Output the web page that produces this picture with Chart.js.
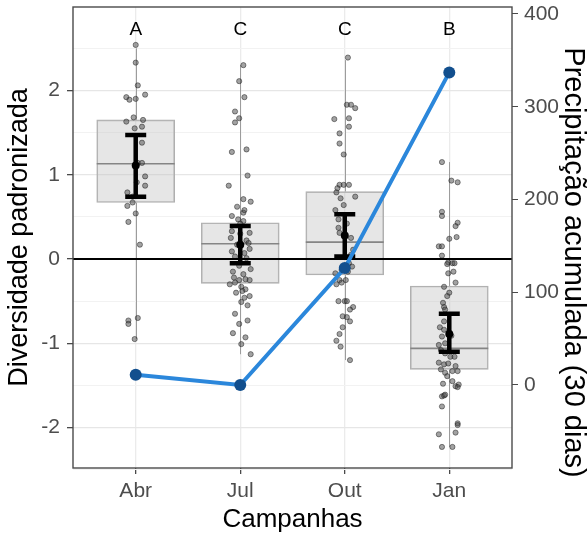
<!DOCTYPE html>
<html>
<head>
<meta charset="utf-8">
<script src="https://cdn.jsdelivr.net/npm/chart.js@4"></script>
<style>
  html, body { margin: 0; padding: 0; background: #fff; }
  canvas { display: block; }
</style>
</head>
<body>
<canvas id="chart" width="588" height="535"></canvas>
<script>
// categorias e letras de significancia
var campanhas = ['Abr', 'Jul', 'Out', 'Jan'];
var letras = ['A', 'C', 'C', 'B'];
var alturaLetras = 2.72;

// precipitacao acumulada (eixo direito)
var precipitacao = [11, 0, 126, 337];
var tituloDir = 'Precipitação acumulada (30 dias)';

// estatisticas do boxplot (diversidade padronizada)
var q1 = [0.67, -0.29, -0.19, -1.31];
var mediana = [1.13, 0.18, 0.20, -1.06];
var q3 = [1.65, 0.43, 0.80, -0.32];
var bigodeMin = [-0.95, -1.13, -1.20, -2.23];
var bigodeMax = [2.50, 2.30, 2.36, 1.15];

// media e intervalo de confianca
var media = [1.11, 0.17, 0.28, -0.89];
var icMin = [0.74, -0.05, 0.03, -1.10];
var icMax = [1.47, 0.39, 0.53, -0.65];

// pontos com jitter: [deslocamento x, valor]
var jitterAbr = [[0.00, 2.54], [0.00, 2.33], [0.02, 2.06], [-0.09, 1.92], [-0.06, 1.89], [0.00, 1.90],
  [0.09, 1.95], [-0.02, 1.68], [-0.09, 1.63], [0.07, 1.65], [-0.01, 1.55], [0.06, 1.57], [0.06, 1.38],
  [0.02, 1.14], [0.06, 1.14], [0.09, 0.98], [0.01, 0.91], [0.09, 0.87], [-0.08, 0.79], [-0.03, 0.74],
  [-0.08, 0.63], [-0.03, 0.67], [0.00, 0.54], [-0.07, 0.44], [0.04, 0.17], [-0.07, -0.73],
  [-0.07, -0.77], [0.02, -0.70], [-0.01, -0.95]];
var jitterJul = [[0.03, 2.30], [-0.01, 2.11], [0.04, 1.92], [-0.05, 1.75], [-0.01, 1.67], [-0.05, 1.62],
  [-0.08, 1.27], [0.06, 1.30], [0.07, 0.99], [-0.11, 0.87], [0.03, 0.71], [0.10, 0.68], [-0.03, 0.62],
  [0.03, 0.55], [0.04, 0.58], [-0.08, 0.51], [-0.02, 0.47], [0.03, 0.45], [0.00, 0.42], [-0.08, 0.33],
  [0.00, 0.30], [0.09, 0.31], [-0.09, 0.25], [0.06, 0.22], [-0.03, 0.17], [0.08, 0.19], [0.04, 0.07],
  [-0.08, 0.09], [0.09, 0.12], [-0.05, 0.03], [0.06, 0.01], [-0.01, -0.08], [0.10, -0.12],
  [-0.07, -0.15], [0.03, -0.18], [-0.06, -0.22], [-0.01, -0.25], [0.05, -0.24], [0.09, -0.25],
  [-0.10, -0.30], [-0.05, -0.28], [0.01, -0.33], [0.05, -0.36], [-0.04, -0.40], [0.02, -0.38],
  [0.09, -0.44], [0.04, -0.46], [0.01, -0.51], [0.07, -0.55], [-0.05, -0.65], [0.07, -0.73],
  [-0.01, -0.77], [-0.07, -0.88], [0.05, -0.93], [0.01, -1.01], [0.10, -1.13]];
var jitterOut = [[0.03, 2.39], [0.02, 1.83], [0.06, 1.83], [0.10, 1.79], [-0.10, 1.66], [0.04, 1.67],
  [0.04, 1.57], [-0.05, 1.49], [-0.05, 1.37], [-0.01, 1.24], [-0.05, 0.88], [-0.01, 0.88], [0.04, 0.88],
  [-0.07, 0.84], [-0.08, 0.79], [-0.04, 0.72], [0.10, 0.74], [-0.01, 0.64], [-0.09, 0.58],
  [-0.06, 0.47], [0.02, 0.42], [-0.06, 0.37], [-0.05, 0.31], [0.06, 0.25], [0.08, 0.11], [0.06, 0.05],
  [0.04, -0.05], [0.07, -0.09], [0.03, -0.15], [-0.03, -0.13], [-0.09, -0.17], [-0.05, -0.25],
  [0.01, -0.25], [-0.08, -0.30], [-0.03, -0.28], [-0.06, -0.50], [0.00, -0.50], [0.02, -0.50],
  [0.08, -0.57], [0.05, -0.60], [-0.02, -0.68], [0.02, -0.69], [0.05, -0.74], [-0.02, -0.81],
  [-0.05, -0.89], [-0.08, -0.97], [-0.04, -1.04], [0.05, -1.20]];
var jitterJan = [[-0.07, 1.15], [0.02, 0.93], [0.08, 0.91], [-0.07, 0.56], [-0.07, 0.51], [0.08, 0.43],
  [0.06, 0.39], [0.00, 0.24], [0.07, 0.26], [-0.10, 0.15], [-0.07, 0.15], [-0.07, 0.04], [-0.01, -0.04],
  [0.03, -0.05], [0.05, -0.05], [-0.02, -0.06], [-0.01, -0.17], [0.04, -0.15], [-0.05, -0.33],
  [0.00, -0.40], [0.06, -0.28], [-0.02, -0.44], [-0.06, -0.52], [-0.05, -0.57], [-0.04, -0.60],
  [-0.05, -0.74], [-0.09, -0.81], [-0.05, -0.84], [-0.07, -0.92], [0.02, -0.91], [-0.04, -1.00],
  [-0.10, -1.02], [-0.08, -1.08], [-0.04, -1.12], [0.01, -1.16], [0.05, -1.16], [-0.10, -1.23],
  [-0.05, -1.25], [-0.01, -1.24], [0.06, -1.27], [-0.08, -1.31], [0.03, -1.33], [0.08, -1.33],
  [-0.04, -1.35], [-0.02, -1.39], [0.03, -1.45], [0.09, -1.49], [0.06, -1.51], [0.08, -1.52],
  [-0.06, -1.48], [-0.07, -1.63], [-0.05, -1.62], [-0.04, -1.61], [-0.07, -1.75], [0.08, -1.95],
  [0.08, -1.97], [0.06, -2.06], [-0.10, -2.08], [-0.07, -2.23], [0.03, -2.23]];

// ticks
var ticksEsq = [-2.5, -2, -1.5, -1, -0.5, 0, 0.5, 1, 1.5, 2, 2.5];
var ticksDir = [0, 100, 200, 300, 400];

var fonte = 'Liberation Sans, Arial, Helvetica, sans-serif';

// monta os dados
var grupos = [jitterAbr, jitterJul, jitterOut, jitterJan];
var pontosJitter = [];
grupos.forEach(function(g, i) {
  g.forEach(function(p) { pontosJitter.push({ x: i + 1 + p[0], y: p[1] }); });
});
var caixas = campanhas.map(function(c, i) { return { x: i + 1, y: [q1[i], q3[i]] }; });
var medias = campanhas.map(function(c, i) { return { x: i + 1, y: media[i] }; });
var precip = campanhas.map(function(c, i) { return { x: i + 1, y: precipitacao[i] }; });

function isMajor(v) { return Math.abs(v - Math.round(v)) < 1e-9; }

var extras = {
  id: 'extras',
  beforeDatasetsDraw: function(chart) {
    // bigodes
    var ctx = chart.ctx, xs = chart.scales.x, ys = chart.scales.y;
    ctx.save();
    ctx.strokeStyle = '#9c9c9c';
    ctx.lineWidth = 1;
    for (var i = 0; i < campanhas.length; i++) {
      var px = Math.round(xs.getPixelForValue(i + 1)) + 0.5;
      ctx.beginPath();
      ctx.moveTo(px, ys.getPixelForValue(bigodeMin[i]));
      ctx.lineTo(px, ys.getPixelForValue(q1[i]));
      ctx.moveTo(px, ys.getPixelForValue(q3[i]));
      ctx.lineTo(px, ys.getPixelForValue(bigodeMax[i]));
      ctx.stroke();
    }
    ctx.restore();
  },
  afterDatasetDraw: function(chart, args) {
    var ctx = chart.ctx, xs = chart.scales.x, ys = chart.scales.y;
    var i, px;
    if (args.index === 0) {
      // medianas
      var barras = chart.getDatasetMeta(0).data;
      ctx.save();
      ctx.strokeStyle = '#858585';
      ctx.lineWidth = 1.6;
      for (i = 0; i < barras.length; i++) {
        var py = ys.getPixelForValue(mediana[i]);
        ctx.beginPath();
        ctx.moveTo(barras[i].x - barras[i].width / 2, py);
        ctx.lineTo(barras[i].x + barras[i].width / 2, py);
        ctx.stroke();
      }
      ctx.restore();
    }
    if (args.index === 1) {
      // barras de erro
      ctx.save();
      ctx.strokeStyle = '#000';
      ctx.lineWidth = 4.5;
      ctx.lineCap = 'butt';
      for (i = 0; i < campanhas.length; i++) {
        px = xs.getPixelForValue(i + 1);
        var lo = ys.getPixelForValue(icMin[i]);
        var hi = ys.getPixelForValue(icMax[i]);
        ctx.beginPath();
        ctx.moveTo(px, lo);
        ctx.lineTo(px, hi);
        ctx.moveTo(px - 10.5, lo);
        ctx.lineTo(px + 10.5, lo);
        ctx.moveTo(px - 10.5, hi);
        ctx.lineTo(px + 10.5, hi);
        ctx.stroke();
      }
      ctx.restore();
    }
  },
  afterDatasetsDraw: function(chart) {
    var ctx = chart.ctx, xs = chart.scales.x, ys = chart.scales.y, a = chart.chartArea;
    ctx.save();
    // letras
    ctx.fillStyle = '#000';
    ctx.font = '19px ' + fonte;
    ctx.textAlign = 'center';
    ctx.textBaseline = 'middle';
    letras.forEach(function(l, i) {
      ctx.fillText(l, xs.getPixelForValue(i + 1), ys.getPixelForValue(alturaLetras));
    });
    // borda do painel
    ctx.strokeStyle = '#4a4a4a';
    ctx.lineWidth = 1.4;
    ctx.strokeRect(a.left, a.top, a.right - a.left, a.bottom - a.top);
    ctx.restore();
  },
  afterDraw: function(chart) {
    // titulo do eixo direito
    var ctx = chart.ctx, s = chart.scales.y2;
    ctx.save();
    ctx.translate(s.right - 15, (s.top + s.bottom) / 2 + 25);
    ctx.rotate(Math.PI / 2);
    ctx.fillStyle = '#000';
    ctx.font = '29px ' + fonte;
    ctx.textAlign = 'center';
    ctx.textBaseline = 'middle';
    ctx.fillText(tituloDir, 0, 0);
    ctx.restore();
  }
};

new Chart(document.getElementById('chart'), {
  type: 'scatter',
  data: {
    datasets: [
      {
        type: 'bar',
        data: caixas,
        barThickness: 78,
        backgroundColor: 'rgba(195,195,195,0.42)',
        borderColor: '#b0b0b0',
        borderWidth: 1,
        borderSkipped: false,
        order: 5
      },
      {
        type: 'scatter',
        data: pontosJitter,
        pointRadius: 2.6,
        pointBackgroundColor: 'rgba(70,70,70,0.5)',
        pointBorderColor: 'rgba(25,25,25,0.6)',
        pointBorderWidth: 0.8,
        order: 4
      },
      {
        type: 'scatter',
        data: medias,
        pointRadius: 4,
        pointBackgroundColor: '#000',
        pointBorderWidth: 0,
        order: 3
      },
      {
        type: 'line',
        data: [{ x: 0.4, y: 0 }, { x: 4.6, y: 0 }],
        borderColor: '#000',
        borderWidth: 1.8,
        pointRadius: 0,
        order: 2
      },
      {
        type: 'line',
        data: precip,
        yAxisID: 'y2',
        borderColor: '#2b87db',
        borderWidth: 4,
        pointRadius: 6,
        pointBackgroundColor: '#124f8e',
        pointBorderWidth: 0,
        clip: false,
        order: 1
      }
    ]
  },
  options: {
    responsive: false,
    animation: false,
    layout: { padding: { top: 7, left: 0, right: 0, bottom: 0 } },
    plugins: {
      legend: { display: false },
      tooltip: { enabled: false }
    },
    scales: {
      x: {
        type: 'linear',
        position: 'bottom',
        min: 0.4,
        max: 4.6,
        offset: false,
        afterBuildTicks: function(s) { s.ticks = campanhas.map(function(c, i) { return { value: i + 1 }; }); },
        afterFit: function(s) { s.height = 67; s.paddingLeft = 0; s.paddingRight = 0; },
        ticks: {
          autoSkip: false,
          maxRotation: 0,
          padding: 7,
          color: '#4d4d4d',
          font: { family: fonte, size: 21, lineHeight: 1 },
          callback: function(v) { return campanhas[v - 1]; }
        },
        grid: { color: '#ebebeb', lineWidth: 1.3, tickColor: '#4a4a4a', tickLength: 6, offset: false },
        border: { display: false },
        title: {
          display: true,
          text: 'Campanhas',
          color: '#000',
          font: { family: fonte, size: 26, lineHeight: 1 },
          padding: { top: 0, bottom: 2 }
        }
      },
      y: {
        type: 'linear',
        position: 'left',
        min: -2.48,
        max: 2.99,
        afterBuildTicks: function(s) { s.ticks = ticksEsq.map(function(v) { return { value: v }; }); },
        afterFit: function(s) { s.width = 73; s.paddingTop = 0; s.paddingBottom = 0; },
        ticks: {
          autoSkip: false,
          padding: 7,
          color: '#4d4d4d',
          font: { family: fonte, size: 21, lineHeight: 1 },
          callback: function(v) { return isMajor(v) ? String(v) : ''; }
        },
        grid: {
          color: function(c) { return c.tick && isMajor(c.tick.value) ? '#e6e6e6' : '#f2f2f2'; },
          lineWidth: function(c) { return c.tick && isMajor(c.tick.value) ? 1.3 : 1; },
          tickColor: function(c) { return c.tick && isMajor(c.tick.value) ? '#4a4a4a' : 'rgba(0,0,0,0)'; },
          tickLength: 6
        },
        border: { display: false },
        title: {
          display: true,
          text: 'Diversidade padronizada',
          color: '#000',
          font: { family: fonte, size: 27, lineHeight: 1 },
          padding: { top: 6, bottom: 0 }
        }
      },
      y2: {
        type: 'linear',
        position: 'right',
        min: -89.5,
        max: 407.5,
        afterBuildTicks: function(s) { s.ticks = ticksDir.map(function(v) { return { value: v }; }); },
        afterFit: function(s) { s.width = 76; s.paddingTop = 0; s.paddingBottom = 0; },
        ticks: {
          autoSkip: false,
          padding: 6,
          color: '#4d4d4d',
          font: { family: fonte, size: 21, lineHeight: 1 }
        },
        grid: { drawOnChartArea: false, tickColor: '#4a4a4a', tickLength: 6 },
        border: { display: false }
      }
    }
  },
  plugins: [extras]
});
</script>
</body>
</html>
